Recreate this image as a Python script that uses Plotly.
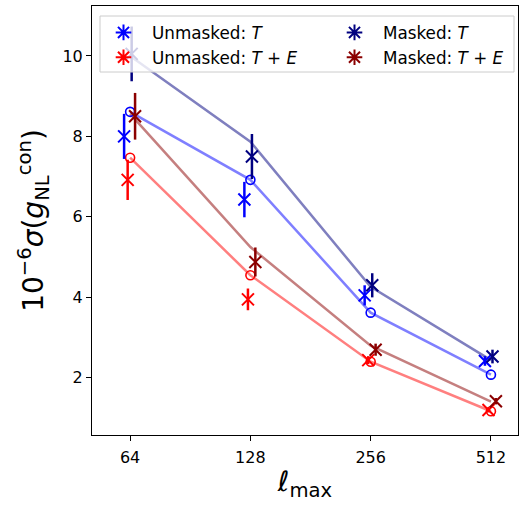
import plotly.graph_objects as go

lmax = [64, 128, 256, 512]

# predictions (lines)
pred_unmasked_T = [8.61, 6.92, 3.62, 2.08]
pred_unmasked_TE = [7.47, 4.55, 2.40, 1.17]
pred_masked_T = [10.0, 7.87, 4.26, 2.44]
pred_masked_TE = [8.56, 5.25, 2.80, 1.41]

# measurements (x markers with error bars)
meas_unmasked_T = [8.0, 6.43, 4.05, 2.42]
err_unmasked_T = [0.56, 0.44, 0.25, 0.12]
meas_unmasked_TE = [6.92, 3.95, 2.44, 1.2]
err_unmasked_TE = [0.5, 0.27, 0.1, 0.06]
meas_masked_T = [10.05, 7.5, 4.3, 2.53]
err_masked_T = [0.68, 0.56, 0.3, 0.17]
meas_masked_TE = [8.5, 4.88, 2.7, 1.42]
err_masked_TE = [0.58, 0.36, 0.15, 0.08]

offsets = {"uT": 0.966, "uTE": 0.986, "mT": 1.009, "mTE": 1.029}

BLUE = "#0000ff"
RED = "#ff0000"
NAVY = "#000080"
DARKRED = "#8b0000"

def rgba(hexc, a):
    h = hexc.lstrip("#")
    return "rgba(%d,%d,%d,%s)" % (int(h[0:2], 16), int(h[2:4], 16), int(h[4:6], 16), a)

fig = go.Figure()

# prediction lines
for ys, c, circ in [(pred_masked_T, NAVY, False), (pred_masked_TE, DARKRED, False),
                    (pred_unmasked_T, BLUE, True), (pred_unmasked_TE, RED, True)]:
    fig.add_trace(go.Scatter(x=lmax, y=ys, mode="lines", showlegend=False,
                             line=dict(color=rgba(c, 0.5), width=2.5), hoverinfo="skip"))
    if circ:
        fig.add_trace(go.Scatter(x=lmax, y=ys, mode="markers", showlegend=False,
                                 marker=dict(symbol="circle-open", size=9, color=c,
                                             line=dict(width=1.6, color=c))))

# measurements
for key, ys, es, c in [("uT", meas_unmasked_T, err_unmasked_T, BLUE),
                       ("uTE", meas_unmasked_TE, err_unmasked_TE, RED),
                       ("mT", meas_masked_T, err_masked_T, NAVY),
                       ("mTE", meas_masked_TE, err_masked_TE, DARKRED)]:
    xs = [v * offsets[key] for v in lmax]
    fig.add_trace(go.Scatter(x=xs, y=ys, mode="markers", showlegend=False,
                             marker=dict(symbol="x-thin-open", size=12, color=c,
                                         line=dict(width=2, color=c)),
                             error_y=dict(type="data", array=es, visible=True,
                                          color=c, thickness=2.5, width=0)))

# legend entries: two columns via two legends
for name, c, lg in [("Unmasked: <i>T</i>", BLUE, "legend"),
                    ("Unmasked: <i>T</i> + <i>E</i>", RED, "legend"),
                    ("Masked: <i>T</i>", NAVY, "legend2"),
                    ("Masked: <i>T</i> + <i>E</i>", DARKRED, "legend2")]:
    fig.add_trace(go.Scatter(x=[None], y=[None], mode="markers", name=name, legend=lg,
                             marker=dict(symbol="asterisk-open", size=13, color=c,
                                         line=dict(width=2, color=c))))

font = "DejaVu Sans"
W, H = 522, 506
L, R, T, B = 92, 4, 6, 71
pw, ph = W - L - R, H - T - B

def px2x(px):
    return (px - L) / pw

def py2y(py):
    return (H - B - py) / ph

legstyle = dict(orientation="v", xanchor="left", yanchor="top",
                bgcolor="rgba(0,0,0,0)", borderwidth=0, itemwidth=47,
                font=dict(family=font, size=16.8), tracegroupgap=0)

fig.update_layout(
    width=W, height=H,
    margin=dict(l=L, r=R, t=T, b=B),
    plot_bgcolor="white", paper_bgcolor="white",
    font=dict(family=font, color="black", size=16),
    showlegend=True,
    legend=dict(x=px2x(95), y=py2y(15), **legstyle),
    legend2=dict(x=px2x(326), y=py2y(15), **legstyle),
    shapes=[dict(type="rect", xref="paper", yref="paper",
                 x0=px2x(100), x1=px2x(514), y0=py2y(72), y1=py2y(16),
                 fillcolor="rgba(255,255,255,0.8)", line=dict(color="#cccccc", width=1),
                 layer="above")],
    xaxis=dict(type="log", range=[1.7108, 2.777], tickvals=lmax,
               ticktext=[str(v) for v in lmax], ticks="outside", ticklen=5,
               tickwidth=1, tickcolor="black", showgrid=False, zeroline=False,
               showline=True, linecolor="black", linewidth=1, mirror=True,
               tickfont=dict(size=16), ticklabelstandoff=3,
               title=dict(text="<i>ℓ</i><sub>max</sub>", font=dict(size=28), standoff=5)),
    yaxis=dict(range=[0.58, 11.24], tickvals=[2, 4, 6, 8, 10], ticks="outside",
               ticklen=5, tickwidth=1, tickcolor="black", showgrid=False, zeroline=False,
               showline=True, linecolor="black", linewidth=1, mirror=True,
               tickfont=dict(size=16),
               title=dict(text="10<sup>−6</sup><i>σ</i>(<i>g</i><sub>NL</sub><sup>con</sup>)",
                          font=dict(size=28), standoff=10)),
)

fig.write_html("out.html")
